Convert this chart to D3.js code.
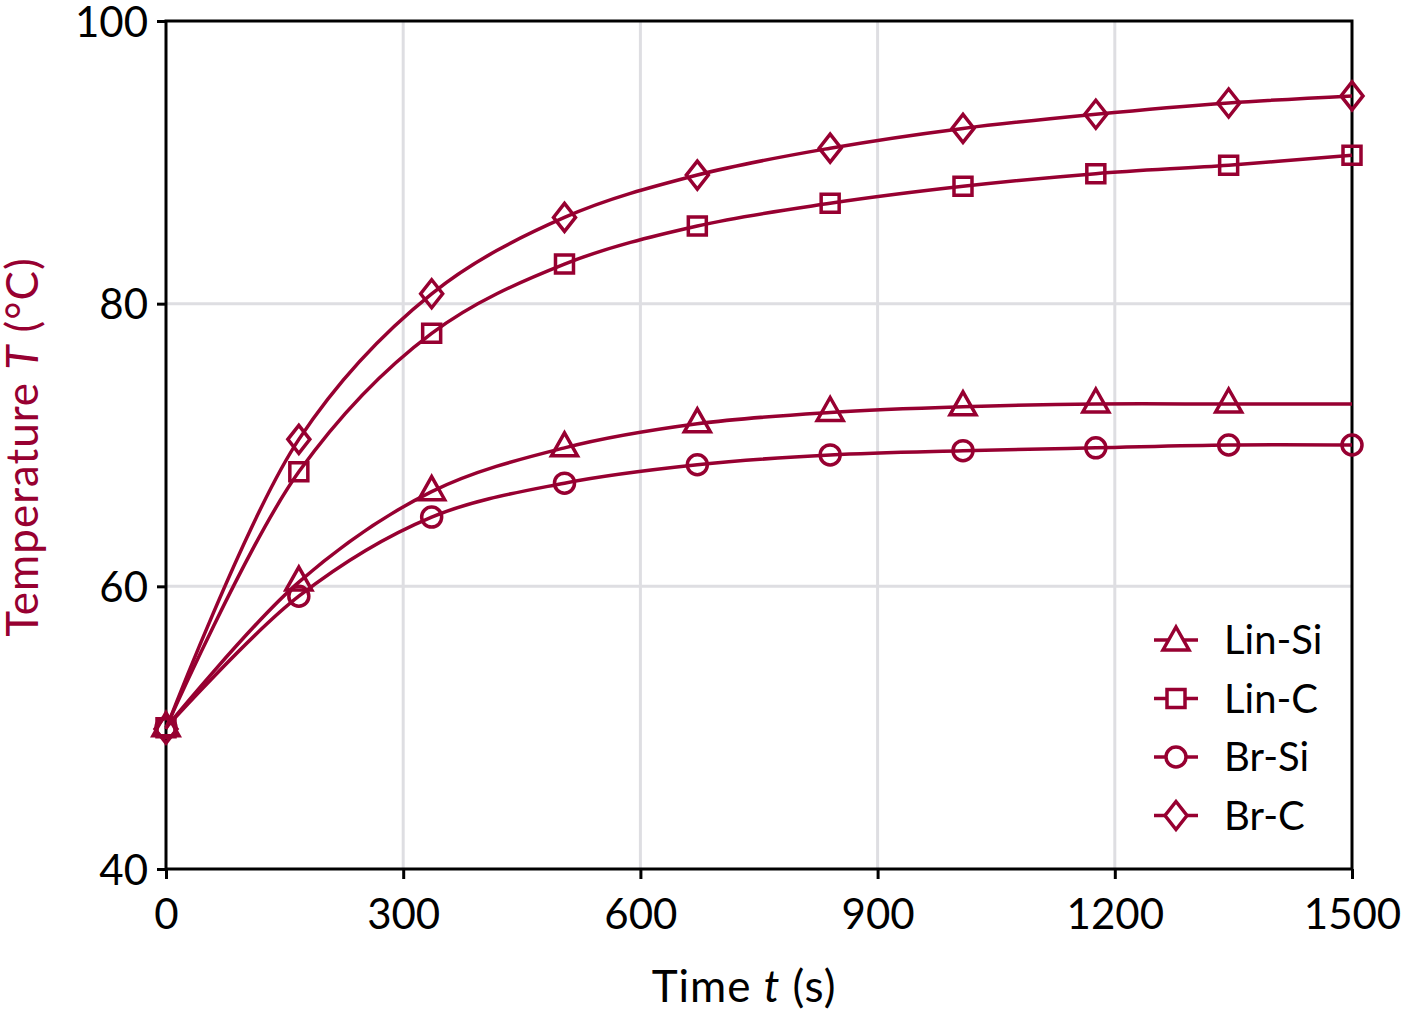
<!DOCTYPE html>
<html>
<head>
<meta charset="utf-8">
<script src="https://cdn.jsdelivr.net/npm/d3@7"></script>
<style>
  html, body { margin: 0; padding: 0; background: #fff; }
  svg { display: block; font-family: Lato, "Open Sans", sans-serif; }
</style>
</head>
<body>
<script>
// time of each reading (s)
const times = [0, 168, 336, 504, 672, 840, 1008, 1176, 1344, 1500];

// temperature readings (°C)
const linSi = [50, 60.3, 66.7, 69.8, 71.5, 72.3, 72.7, 72.9, 72.9, 72.9];
const linC  = [50, 68.1, 77.9, 82.8, 85.5, 87.1, 88.3, 89.2, 89.8, 90.5];
const brSi  = [50, 59.3, 64.9, 67.3, 68.6, 69.3, 69.6, 69.8, 70.0, 70.0];
const brC   = [49.9, 70.4, 80.7, 86.1, 89.1, 91.0, 92.4, 93.4, 94.2, 94.7];

const seriesNames = ['Lin-Si', 'Lin-C', 'Br-Si', 'Br-C'];
const seriesValues = [linSi, linC, brSi, brC];
const seriesMarks = ['triangle', 'square', 'circle', 'diamond'];

const xTicks = [0, 300, 600, 900, 1200, 1500];
const yTicks = [40, 60, 80, 100];

const red = '#970031';
const width = 1401, height = 1015;

const svg = d3.select('body').append('svg')
    .attr('width', width)
    .attr('height', height);

const x = d3.scaleLinear().domain([0, 1500]).range([166, 1352]);
const y = d3.scaleLinear().domain([40, 100]).range([869, 21]);

// grid
const grid = svg.append('g')
    .attr('stroke', '#dedee2')
    .attr('stroke-width', 3);

grid.selectAll('line.vx').data(xTicks.slice(1, -1)).enter()
    .append('line')
    .attr('x1', d => x(d)).attr('x2', d => x(d))
    .attr('y1', y(40)).attr('y2', y(100));

grid.selectAll('line.hy').data(yTicks.slice(1, -1)).enter()
    .append('line')
    .attr('x1', x(0)).attr('x2', x(1500))
    .attr('y1', d => y(d)).attr('y2', d => y(d));

// axes
const xAxis = svg.append('g')
    .attr('transform', `translate(0,${y(40)})`)
    .call(d3.axisBottom(x).tickValues(xTicks).tickFormat(d3.format('d')).tickSize(10).tickPadding(20));

const yAxis = svg.append('g')
    .attr('transform', `translate(${x(0)},0)`)
    .call(d3.axisLeft(y).tickValues(yTicks).tickFormat(d3.format('d')).tickSize(9).tickPadding(9));

[xAxis, yAxis].forEach(a => {
    a.selectAll('path, line').attr('stroke', '#000').attr('stroke-width', 3);
    a.select('path.domain').attr('d', null);
    a.selectAll('text')
        .attr('fill', '#000')
        .style('font-size', '42px')
        .style('font-family', 'Lato, sans-serif');
});
yAxis.selectAll('text').attr('dy', '0.36em');

// frame
svg.append('rect')
    .attr('x', x(0)).attr('y', y(100))
    .attr('width', x(1500) - x(0)).attr('height', y(40) - y(100))
    .attr('fill', 'none')
    .attr('stroke', '#000')
    .attr('stroke-width', 3);

// marker shapes
function markerPath(kind) {
    switch (kind) {
        case 'triangle': return 'M0,-15 L13,8 L-13,8 Z';
        case 'square': return 'M-9,-9 H9 V9 H-9 Z';
        case 'circle': return 'M10,0 A10,10 0 1,1 -10,0 A10,10 0 1,1 10,0 Z';
        case 'diamond': return 'M0,-14 L11,0 L0,14 L-11,0 Z';
    }
}

const line = d3.line()
    .x(d => x(d.t))
    .y(d => y(d.v))
    .curve(d3.curveCatmullRom.alpha(0.5));

const plot = svg.append('g');

seriesValues.forEach((vals, i) => {
    const pts = times.map((t, j) => ({ t, v: vals[j] }));
    plot.append('path')
        .datum(pts)
        .attr('fill', 'none')
        .attr('stroke', red)
        .attr('stroke-width', 3.5)
        .attr('d', line);

    // Lin-Si has no marker at the last reading
    const markPts = seriesMarks[i] === 'triangle' ? pts.slice(0, -1) : pts;
    plot.selectAll(null).data(markPts).enter()
        .append('path')
        .attr('d', markerPath(seriesMarks[i]))
        .attr('transform', d => `translate(${x(d.t)},${y(d.v)})`)
        .attr('fill', 'none')
        .attr('stroke', red)
        .attr('stroke-width', 3.5);
});

// legend
const legend = svg.append('g');
const legendRows = legend.selectAll('g').data(seriesNames).enter()
    .append('g')
    .attr('transform', (d, i) => `translate(1176,${640 + i * 58.5})`);

legendRows.append('line')
    .attr('x1', -22).attr('x2', 22)
    .attr('stroke', red)
    .attr('stroke-width', 3.5);

legendRows.append('path')
    .attr('d', (d, i) => markerPath(seriesMarks[i]))
    .attr('transform', (d, i) => seriesMarks[i] === 'triangle' ? 'translate(0,2)' : null)
    .attr('fill', '#fff')
    .attr('stroke', red)
    .attr('stroke-width', 3.5);

legendRows.append('text')
    .attr('x', 48)
    .attr('dy', '0.36em')
    .style('font-size', '40px')
    .attr('fill', '#000')
    .text(d => d);

// axis titles
const xTitle = svg.append('text')
    .attr('x', 744).attr('y', 1002)
    .attr('text-anchor', 'middle')
    .style('font-size', '44px')
    .style('letter-spacing', '1px')
    .attr('fill', '#000');
xTitle.append('tspan').text('Time ');
xTitle.append('tspan').style('font-style', 'italic').text('t');
xTitle.append('tspan').text(' (s)');

const yTitle = svg.append('text')
    .attr('transform', 'translate(38,447) rotate(-90)')
    .attr('text-anchor', 'middle')
    .style('font-size', '44px')
    .style('letter-spacing', '1px')
    .attr('fill', red);
yTitle.append('tspan').text('Temperature ');
yTitle.append('tspan').style('font-style', 'italic').text('T');
yTitle.append('tspan').text(' (°C)');
</script>
</body>
</html>
